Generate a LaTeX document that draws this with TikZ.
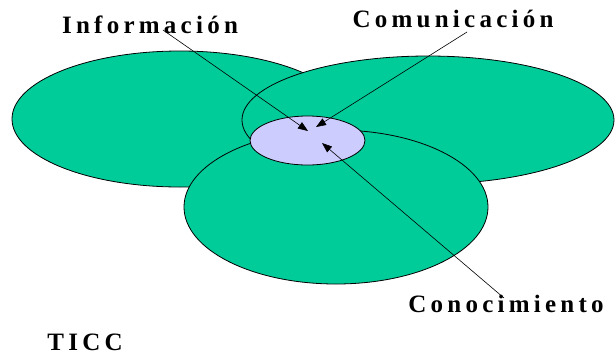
\documentclass[tikz,border=0pt]{standalone}
\usepackage{fontspec}
\setmainfont{Liberation Serif}
\newfontfamily\spacedfont[LetterSpace=17]{Liberation Serif}
\usetikzlibrary{arrows.meta,positioning,calc,shapes.geometric}
\definecolor{leafgreen}{HTML}{00CC99}
\definecolor{corelilac}{HTML}{CCCCFF}
\tikzset{
    every picture/.style={line cap=round,line join=round},
    petal/.style={ellipse,draw=black,fill=leafgreen,line width=0.8pt,
      inner sep=0pt,outer sep=0pt},
    corenode/.style={ellipse,draw=black,fill=corelilac,line width=0.8pt,
      inner sep=0pt,outer sep=0pt},
    termlabel/.style={anchor=base,inner sep=0pt,text=black,text depth=0pt,
      font=\spacedfont\bfseries\fontsize{25}{29}\selectfont},
    pointer/.style={-{Triangle[length=10pt,width=7.5pt]},draw=black,
      line width=0.6pt}
}
\begin{document}
\begin{tikzpicture}[x=1pt,y=-1pt]
  \useasboundingbox (0,0) rectangle (615,354);
  % the three overlapping areas
  \node[petal,minimum width=336,minimum height=136] (infoArea) at (180,119) {};
  \node[petal,minimum width=372,minimum height=128] (comArea) at (428,120) {};
  \node[petal,minimum width=304,minimum height=154] (conArea) at (336,207) {};
  \node[corenode,minimum width=115,minimum height=49] (core) at (307.5,140.5) {};
  % labels
  \node[termlabel] (info) at (150,33) {Información};
  \node[termlabel] (com) at (453,27) {Comunicación};
  \node[termlabel] (con) at (506,312) {Conocimiento};
  \node[termlabel] (ticc) at (85,350) {TICC};
  % arrow ends
  \coordinate (infoFoot) at (163,30);
  \coordinate (comFoot) at (467,32);
  \coordinate (conFoot) at (504,298);
  \draw[pointer] (infoFoot) -- ($(core.center)+(0.5,-9.5)$);
  \draw[pointer] (comFoot) -- ($(core.center)+(8.5,-13.5)$);
  \draw[pointer] (conFoot) -- ($(core.center)+(14.5,2.5)$);
\end{tikzpicture}
\end{document}
